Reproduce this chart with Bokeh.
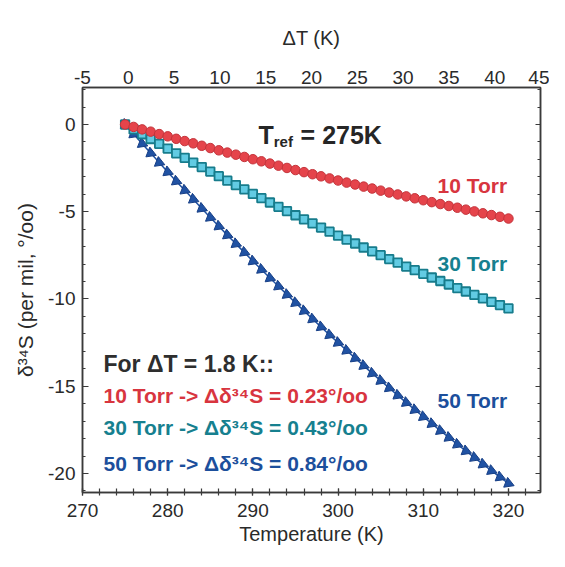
from bokeh.plotting import figure
from bokeh.models import (Range1d, LinearAxis, SingleIntervalTicker, Label, ColumnDataSource,
                          PrintfTickFormatter)
from bokeh.embed import file_html
from bokeh.resources import INLINE

# ---- data ----
temperature = [275, 276, 277, 278, 279, 280, 281, 282, 283, 284, 285, 286, 287, 288, 289, 290,
               291, 292, 293, 294, 295, 296, 297, 298, 299, 300, 301, 302, 303, 304, 305, 306,
               307, 308, 309, 310, 311, 312, 313, 314, 315, 316, 317, 318, 319, 320]
d34s_10torr = [0.00, -0.14, -0.28, -0.41, -0.55, -0.68, -0.82, -0.95, -1.08, -1.22, -1.35, -1.48,
               -1.61, -1.73, -1.86, -1.99, -2.11, -2.24, -2.36, -2.49, -2.61, -2.73, -2.85, -2.97,
               -3.09, -3.21, -3.33, -3.44, -3.56, -3.67, -3.79, -3.90, -4.01, -4.12, -4.23, -4.34,
               -4.45, -4.56, -4.67, -4.77, -4.88, -4.98, -5.09, -5.19, -5.29, -5.39]
d34s_30torr = [0.00, -0.28, -0.56, -0.83, -1.11, -1.38, -1.65, -1.91, -2.18, -2.44, -2.70, -2.96,
               -3.22, -3.47, -3.72, -3.98, -4.22, -4.47, -4.72, -4.96, -5.20, -5.44, -5.67, -5.91,
               -6.14, -6.37, -6.60, -6.82, -7.05, -7.27, -7.49, -7.71, -7.92, -8.14, -8.35, -8.56,
               -8.77, -8.97, -9.17, -9.38, -9.57, -9.77, -9.97, -10.16, -10.35, -10.54]
d34s_50torr = [0.00, -0.55, -1.10, -1.64, -2.18, -2.72, -3.25, -3.77, -4.29, -4.81, -5.33, -5.83,
               -6.34, -6.84, -7.33, -7.83, -8.31, -8.80, -9.27, -9.75, -10.22, -10.68, -11.15, -11.60,
               -12.06, -12.50, -12.95, -13.39, -13.82, -14.26, -14.68, -15.10, -15.52, -15.94, -16.35,
               -16.75, -17.15, -17.55, -17.94, -18.33, -18.71, -19.09, -19.47, -19.84, -20.21, -20.57]

series_labels = ["10 Torr", "30 Torr", "50 Torr"]
summary_title = "For \u0394T = 1.8 K::"
summary_lines = ["10 Torr  -> \u0394\u03b4\u00b3\u2074S = 0.23\u00b0/oo",
                 "30 Torr  -> \u0394\u03b4\u00b3\u2074S = 0.43\u00b0/oo",
                 "50 Torr  -> \u0394\u03b4\u00b3\u2074S = 0.84\u00b0/oo"]

FONT = "Liberation Sans"
RED, RED_EDGE = "#e5444b", "#c4343b"
CYAN, CYAN_EDGE = "#62cbe3", "#177c8c"
BLUE, BLUE_EDGE = "#2052a3", "#173f86"
RED_TXT, TEAL_TXT, BLUE_TXT = "#d8353f", "#16808f", "#1c4f9c"
AX = "#3a3a3a"
TXT = "#2a2a2a"

p = figure(width=549, height=551, output_backend="svg", toolbar_location=None,
           x_range=Range1d(270, 323.76), y_range=Range1d(-21.09, 2.12),
           min_border_left=82, min_border_right=9, min_border_top=87, min_border_bottom=59)
p.xgrid.visible = False
p.ygrid.visible = False
p.outline_line_color = AX
p.outline_line_width = 1.5
p.background_fill_color = "white"
p.border_fill_color = "white"

# bottom axis
xa = p.xaxis[0]
xa.ticker = SingleIntervalTicker(interval=10, num_minor_ticks=5)
xa.axis_label = "Temperature (K)"
# left axis
ya = p.yaxis[0]
ya.ticker = SingleIntervalTicker(interval=5, num_minor_ticks=5)
ya.formatter = PrintfTickFormatter(format="%d")
ya.axis_label = "\u03b4\u00b3\u2074S (per mil, \u00b0/oo)"

for ax in (xa, ya):
    ax.axis_line_color = AX
    ax.axis_line_width = 1.5
    ax.major_tick_line_color = AX
    ax.minor_tick_line_color = AX
    ax.major_tick_line_width = 1.2
    ax.minor_tick_line_width = 1.2
    ax.major_label_text_font = FONT
    ax.major_label_text_font_size = "19px"
    ax.major_label_text_color = TXT
    ax.axis_label_text_font = FONT
    ax.axis_label_text_font_style = "normal"
    ax.axis_label_text_color = TXT

xa.axis_label_text_font_size = "20px"
ya.axis_label_text_font_size = "21px"
xa.major_tick_in, xa.major_tick_out = 4, 3
xa.minor_tick_in, xa.minor_tick_out = 4, 3
xa.major_label_standoff = 8
xa.axis_label_standoff = 3
ya.major_tick_in, ya.major_tick_out = 6, 0
ya.minor_tick_in, ya.minor_tick_out = 3, 0
ya.major_label_standoff = 7
ya.axis_label_standoff = 8

# top axis (Delta T)
p.extra_x_ranges = {"dT": Range1d(-5, 45)}
top = LinearAxis(x_range_name="dT", ticker=SingleIntervalTicker(interval=5, num_minor_ticks=0),
                 formatter=PrintfTickFormatter(format="%d"), axis_label="\u0394T (K)")
top.axis_line_color = AX
top.axis_line_width = 1.5
top.major_tick_in = 0
top.major_tick_out = 0
top.minor_tick_in = 0
top.minor_tick_out = 0
top.major_label_standoff = 4
top.major_label_text_font = FONT
top.major_label_text_font_size = "19px"
top.major_label_text_color = TXT
top.axis_label_text_font = FONT
top.axis_label_text_font_size = "20px"
top.axis_label_text_font_style = "normal"
top.axis_label_text_color = TXT
top.axis_label_standoff = 19
p.add_layout(top, "above")

# right axis (ticks only)
right = LinearAxis(ticker=SingleIntervalTicker(interval=5, num_minor_ticks=5))
right.axis_line_color = AX
right.axis_line_width = 1.5
right.major_tick_line_color = AX
right.minor_tick_line_color = AX
right.major_tick_in, right.major_tick_out = 5, 0
right.minor_tick_in, right.minor_tick_out = 3, 0
right.major_label_text_font_size = "1px"
right.major_label_text_color = None
right.major_label_standoff = 0
right.axis_label_standoff = 0
p.add_layout(right, "right")

# ---- series ----
src = ColumnDataSource(dict(t=temperature, r=d34s_10torr, c=d34s_30torr, b=d34s_50torr))

p.line("t", "b", source=src, line_color=BLUE, line_width=1.5)
p.scatter("t", "b", source=src, marker="triangle", size=10.5, angle=-1.95,
          fill_color=BLUE, line_color=BLUE_EDGE, line_width=1)

p.line("t", "c", source=src, line_color=CYAN_EDGE, line_width=1.5)
p.scatter("t", "c", source=src, marker="square", size=8.5,
          fill_color=CYAN, line_color=CYAN_EDGE, line_width=1.8)

p.line("t", "r", source=src, line_color=RED_EDGE, line_width=1.5)
p.scatter("t", "r", source=src, marker="circle", size=9.5,
          fill_color=RED, line_color=RED_EDGE, line_width=1)

# ---- annotations ----
def add_label(x, y, text, color, size, bold=True):
    p.add_layout(Label(x=x, y=y, text=text, text_color=color, text_font=FONT,
                       text_font_size=size, text_font_style="bold" if bold else "normal",
                       text_baseline="alphabetic", text_align="left"))

add_label(290.66, -0.60, "T", "#262626", "25px")
add_label(292.45, -0.95, "ref", "#262626", "15px")
add_label(295.6, -0.60, "= 275K", "#262626", "25px")

add_label(311.67, -3.50, series_labels[0], RED_TXT, "21px")
add_label(311.67, -7.97, series_labels[1], TEAL_TXT, "21px")
add_label(311.67, -15.82, series_labels[2], BLUE_TXT, "21px")

add_label(272.46, -13.70, summary_title, "#2e2e2e", "23px")
add_label(272.46, -15.53, summary_lines[0], RED_TXT, "21px")
add_label(272.46, -17.36, summary_lines[1], TEAL_TXT, "21px")
add_label(272.46, -19.43, summary_lines[2], BLUE_TXT, "21px")

open("out.html", "w").write(file_html(p, INLINE))
